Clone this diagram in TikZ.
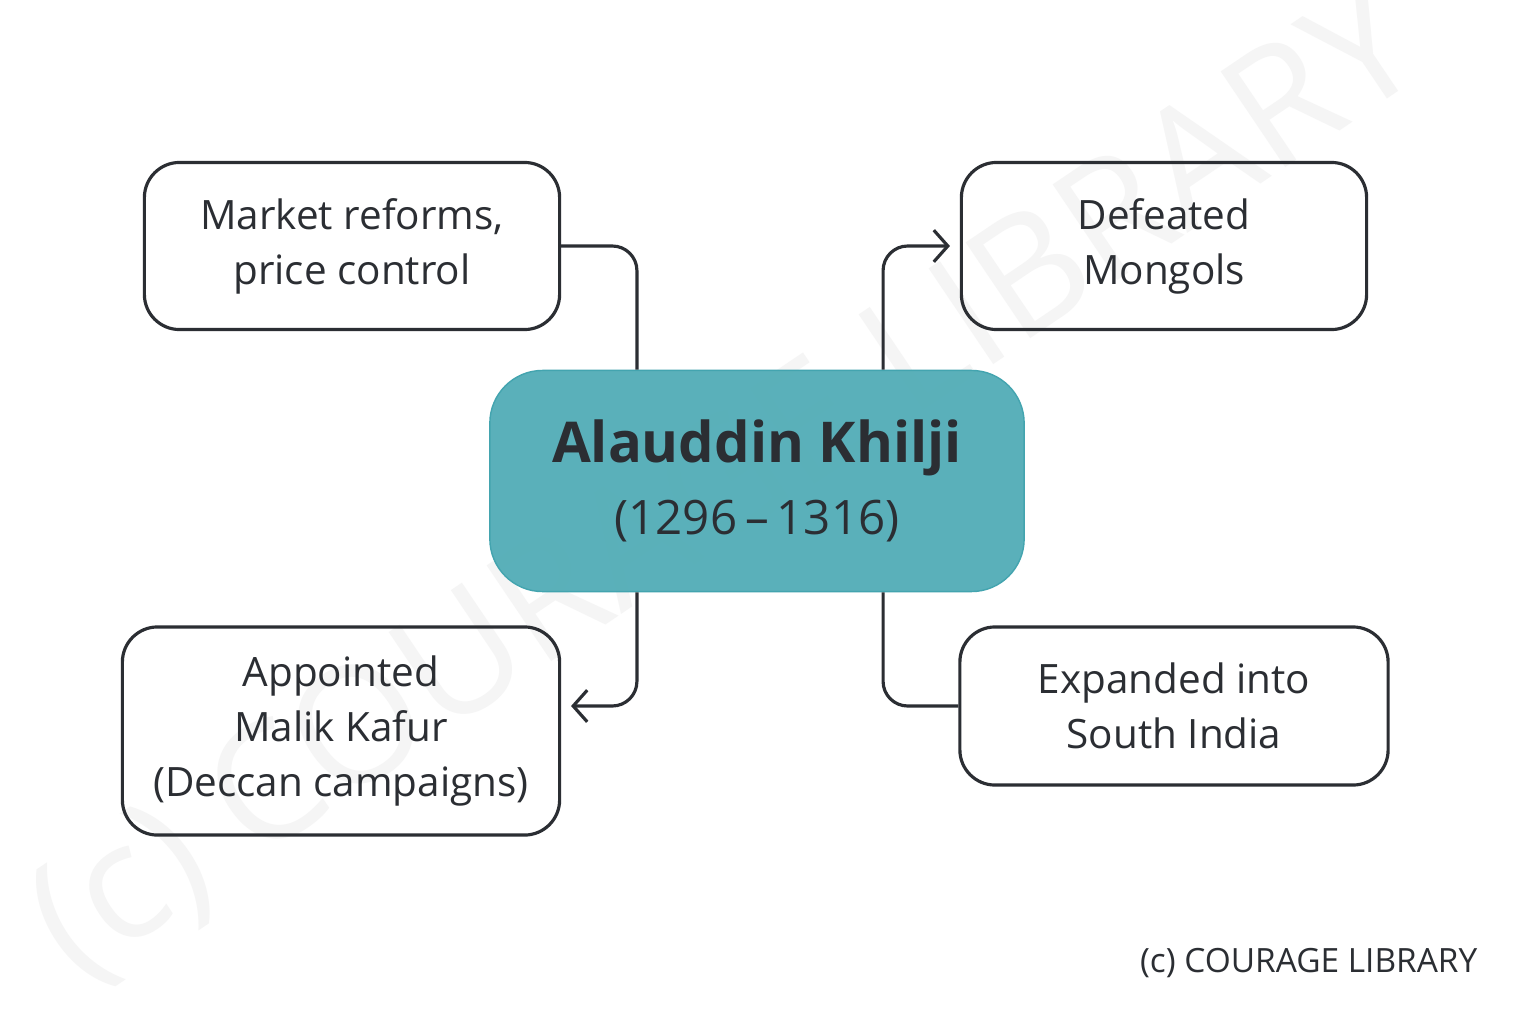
\documentclass[tikz,border=0pt]{standalone}
\usepackage{fontspec}
\setmainfont{Open Sans}
\usetikzlibrary{arrows.meta}

\definecolor{ink}{HTML}{2B2E33}
\definecolor{tealfill}{HTML}{55AEB8}
\definecolor{tealedge}{HTML}{43A4AF}

\begin{document}
\begin{tikzpicture}[x=0.01cm, y=-0.01cm,
    event/.style={draw=ink, line width=0.9pt, rounded corners=10pt, align=center,
      text=ink, inner sep=0pt, font=\fontsize{11.5}{15.6}\selectfont},
    link/.style={draw=ink, line width=0.9pt, rounded corners=7pt},
    tip/.style={-{Straight Barb[length=4pt, width=9pt, line width=0.9pt]}, shorten >=2.8pt}]
  \useasboundingbox[fill=white] (0,0) rectangle (1536,1024);
  % faint watermark
  \node[rotate=34, text=black!4, font=\fontsize{46}{50}\selectfont] (mark) at (728,488) {(c) COURAGE LIBRARY};

  \node[draw=tealedge, fill=tealfill, fill opacity=0.97, text opacity=1, rounded corners=15pt,
    minimum width=5.34cm, minimum height=2.21cm, align=center, text=ink, inner sep=0pt] (khilji) at (757,481)
    {{\fontsize{16}{19}\selectfont\bfseries Alauddin Khilji}\\[6pt]{\fontsize{13.5}{16}\selectfont (1296\,–\,1316)}};

  \node[event, minimum width=4.15cm, minimum height=1.67cm] (market) at (352,246) {Market reforms,\\price control};
  \node[event, minimum width=4.05cm, minimum height=1.67cm] (mongols) at (1164,246) {Defeated\\Mongols};
  \node[event, minimum width=4.37cm, minimum height=2.08cm] (kafur) at (341,731) {Appointed\\Malik Kafur\\(Deccan campaigns)};
  \node[event, minimum width=4.28cm, minimum height=1.58cm] (south) at (1174,706) {Expanded into\\South India};

  \coordinate (kafurin) at (kafur.east |- south.west);

  \draw[link] ([xshift=-1.2cm]khilji.north) |- (market.east);
  \draw[link, tip] ([xshift=1.26cm]khilji.north) |- (mongols.west);
  \draw[link, tip] ([xshift=-1.2cm]khilji.south) |- (kafurin);
  \draw[link] ([xshift=1.26cm]khilji.south) |- (south.west);

  \node[text=ink, font=\fontsize{9.5}{11}\selectfont, anchor=east, inner sep=0pt] (credit) at (1478,963) {(c) COURAGE LIBRARY};
\end{tikzpicture}
\end{document}
